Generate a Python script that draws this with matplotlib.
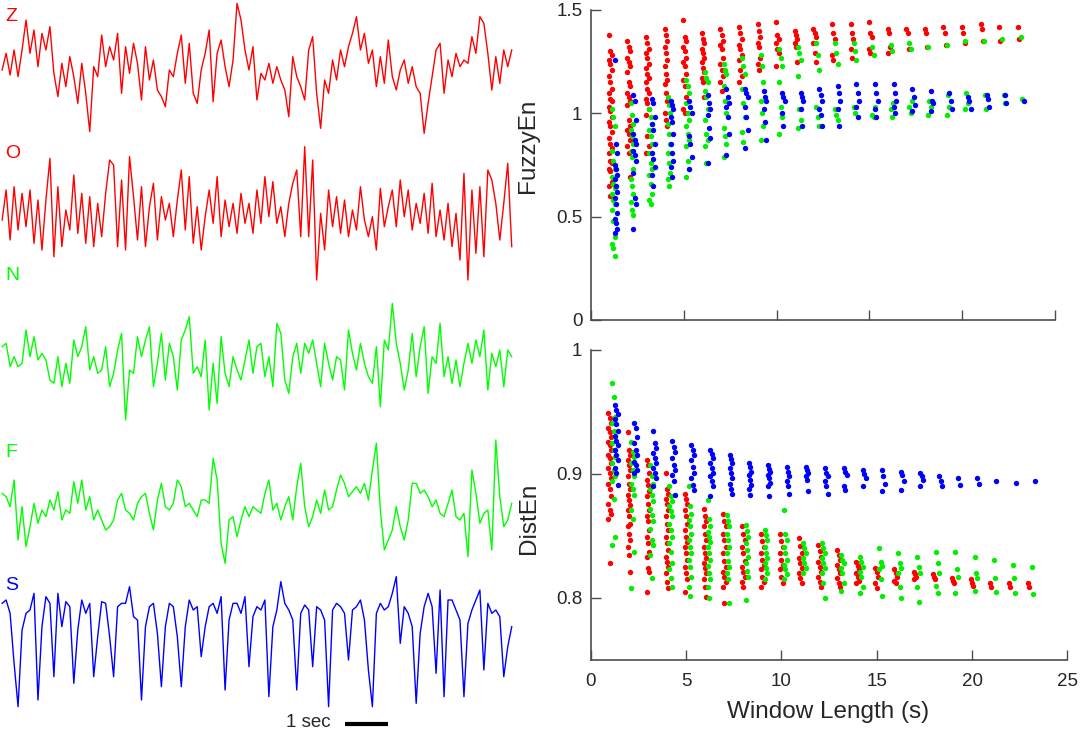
import numpy as np
import matplotlib
matplotlib.use("Agg")
import matplotlib.pyplot as plt

plt.rcParams['font.family'] = ['Liberation Sans', 'DejaVu Sans']

# EEG excerpts (arbitrary amplitude units, sampled evenly over the excerpt)
z_trace = [-10, 40, -25, 50, -30, 50, 140, 40, 110, 0, 100, 50, 120, -20, -90, 10, -60, 30, -30, -110,
           10, -80, -195, 0, -30, 95, 0, 60, 20, 100, -80, 60, -20, 70, 10, -100, 60, -40, 20, -70,
           -90, -120, -10, -30, 40, 95, -50, 70, -80, -110, -10, 40, 110, -105, 40, 80, 0, -60, 20, 190,
           140, 50, -10, 60, -100, -20, -40, 10, -50, 0, -40, -70, -150, 30, -30, -60, -100, 50, 90, -80,
           -185, -40, -80, 20, -40, 50, 0, 60, 100, 150, 50, 100, 10, 50, -60, 30, -50, 80, -30, -70,
           -10, 20, -50, 0, -60, -80, -200, -110, -30, 50, 70, -80, 20, -30, 40, 0, 20, 10, 90, 40,
           150, 130, 40, -70, 30, -50, 50, 0, 50]
o_trace = [-20, 70, -80, 80, -50, 60, -40, 70, -90, 40, -110, 40, 165, -130, 80, -100, 10, -50, 115, -60,
           60, -90, 50, -100, 30, -70, 60, 160, 145, -100, 100, -110, 170, 50, -80, 80, -100, 20, 90, -80,
           50, -20, 30, -70, 40, 130, -50, 110, -90, 20, -110, -10, 70, -30, 110, -70, 40, -40, 30, -60,
           60, -30, 30, -60, 70, -30, 110, -10, 95, -30, 20, -70, 30, 90, 130, -70, 200, -70, 160, -200,
           0, -110, 70, -40, 50, -60, 40, -70, 10, -50, 80, -20, -70, -10, -110, 75, -40, 20, 70, -40,
           100, -10, 70, -50, 30, -30, 60, -60, 90, -70, 10, -80, 30, -100, 0, -140, 120, -200, 70, -120,
           80, -130, 130, 100, 30, -80, 30, 150, -100]
n_trace = [40, 50, -20, 10, -20, -10, 90, 10, 70, 0, 20, 0, -60, -70, 10, -80, -10, -70, 60, 10,
           40, 100, -30, 10, -40, -30, 40, -80, -40, 30, 80, -180, -30, -40, 70, 10, 60, 100, -80, -10,
           80, -60, 50, 10, -90, 60, 90, 130, -40, -20, -50, 60, -150, -10, -130, 70, -40, -80, 10, -30,
           -60, 0, 60, -40, 40, 50, -50, 10, -80, 110, 80, -60, -100, 10, 50, -40, 50, 20, 60, -10,
           -80, 50, -10, -60, 10, 0, -90, 90, 20, -30, 50, -10, -50, -70, 40, -140, 60, 30, 170, 50,
           -10, -90, -30, 80, -50, 40, 100, -100, 10, -10, 110, -50, 10, -70, 0, -80, -10, 50, -10, 60,
           10, 90, -90, 20, -20, 30, -80, 30, 10]
f_trace = [40, 30, 0, 80, -100, 0, -120, -60, 10, -50, -10, -30, 20, -10, 45, -40, -10, -20, 75, 10,
           80, -10, 30, -40, -10, -40, -70, -60, -40, 20, 40, -10, -20, -40, 10, 30, 40, -20, -70, 20,
           70, 0, -10, 10, 80, 60, 0, 10, -10, -30, 20, 20, 10, 145, 80, -110, -170, -40, -30, -90,
           -40, 0, -30, 0, -10, -20, 40, 80, -10, 10, -40, 0, 30, -40, 60, 130, 0, -60, -30, 20,
           -20, 50, -10, 0, 50, 95, 70, 30, 45, 60, 40, 70, 20, 110, 190, -10, -130, -100, -70, 0,
           -60, -100, -40, 70, 70, 40, 50, 30, 0, 20, -20, -30, 10, 50, -30, -40, -20, -150, 110, 40,
           -50, -20, -10, -130, 200, 30, -60, -40, 10]
s_trace = [20, 30, -10, -160, -290, -60, -10, 0, 50, -270, -50, 40, 20, -200, 50, -50, 25, 10, -220, -60,
           30, -10, 20, -200, -80, 25, 20, -80, -200, 10, 20, 20, 70, -20, -30, -270, -50, 10, 20, -70,
           -230, -50, 20, 10, -80, -230, -50, 30, 0, 10, -140, -50, 10, 20, -10, 40, -240, -30, 20, 20,
           -10, 40, -170, -20, 10, 0, 30, -260, -50, 0, 85, 20, 0, -30, -240, -10, 15, 0, -170, 10,
           0, -30, -290, 0, 20, 10, -10, -150, 0, 10, 30, -30, -180, -290, -10, 20, 0, 10, 50, 100,
           -100, 10, -10, -50, -280, -70, 10, 50, 10, -190, 60, -260, 30, 30, 0, -30, -260, -40, 0, 30,
           60, -180, 20, -10, 0, -20, -200, -110, -50]
trace_names = ['Z', 'O', 'N', 'F', 'S']
trace_colors = ['#ff0000', '#ff0000', '#00ff00', '#00ff00', '#0000ff']
excerpt_sec = 11.9

# entropy values per window length (one list per window)
windows = np.arange(1, 24)

fuzzy_red = [
    [1.38, 1.30, 1.28, 1.26, 1.24, 1.21, 1.18, 1.15, 1.12, 1.10, 1.07, 1.06, 1.03, 1.01, 0.98, 0.96, 0.94,
     0.91, 0.88, 0.85, 0.83, 0.81, 0.77, 0.76, 0.73, 0.72, 0.67, 0.65, 0.60],
    [1.35, 1.32, 1.30, 1.27, 1.25, 1.23, 1.20, 1.15, 1.13, 1.10, 1.08, 1.06, 1.04, 0.97, 0.94, 0.92, 0.90,
     0.87, 0.84, 0.81, 0.69],
    [1.37, 1.34, 1.31, 1.29, 1.27, 1.24, 1.22, 1.19, 1.17, 1.15, 1.12, 1.10, 1.07, 1.05, 1.02, 0.99, 0.89,
     0.84, 0.81],
    [1.41, 1.38, 1.35, 1.32, 1.29, 1.26, 1.23, 1.19, 1.16, 1.14, 1.10, 1.06, 1.00, 0.97, 0.94],
    [1.45, 1.37, 1.35, 1.32, 1.30, 1.27, 1.25, 1.23, 1.19, 1.16, 1.13, 1.08, 1.02, 1.00],
    [1.39, 1.36, 1.34, 1.31, 1.29, 1.27, 1.25, 1.22, 1.20, 1.17, 1.15, 1.08],
    [1.41, 1.38, 1.35, 1.33, 1.31, 1.27, 1.24, 1.21, 1.18, 1.15, 1.11],
    [1.42, 1.39, 1.36, 1.33, 1.31, 1.28, 1.26, 1.21, 1.18, 1.15],
    [1.43, 1.40, 1.37, 1.34, 1.32, 1.27, 1.24, 1.21],
    [1.44, 1.38, 1.36, 1.34, 1.31, 1.29, 1.23],
    [1.40, 1.38, 1.36, 1.34, 1.32, 1.25],
    [1.41, 1.39, 1.37, 1.34, 1.29, 1.25],
    [1.43, 1.39, 1.36, 1.28, 1.26],
    [1.43, 1.39, 1.36, 1.31, 1.27],
    [1.44, 1.39, 1.37, 1.31, 1.29],
    [1.41, 1.39, 1.32, 1.29],
    [1.41, 1.39, 1.31],
    [1.41, 1.39, 1.32],
    [1.42, 1.39, 1.33],
    [1.42, 1.39, 1.34],
    [1.43, 1.41, 1.35],
    [1.42, 1.35],
    [1.42, 1.36],
]
fuzzy_green = [
    [1.02, 0.98, 0.94, 0.82, 0.77, 0.73, 0.69, 0.66, 0.64, 0.61, 0.58, 0.56, 0.53, 0.48, 0.40, 0.37, 0.35, 0.31],
    [1.05, 0.99, 0.95, 0.92, 0.89, 0.85, 0.82, 0.79, 0.73, 0.68, 0.65, 0.61, 0.57, 0.53, 0.51],
    [1.02, 0.98, 0.95, 0.92, 0.89, 0.85, 0.81, 0.76, 0.73, 0.70, 0.66, 0.61, 0.58, 0.56],
    [1.08, 1.04, 1.00, 0.95, 0.90, 0.85, 0.81, 0.76, 0.71, 0.68, 0.65],
    [1.16, 1.13, 1.10, 1.05, 1.00, 0.97, 0.94, 0.90, 0.87, 0.84, 0.77, 0.73, 0.69],
    [1.20, 1.17, 1.15, 1.11, 1.08, 1.02, 0.97, 0.90, 0.87, 0.84, 0.76],
    [1.24, 1.21, 1.19, 1.13, 1.06, 1.00, 0.93, 0.89, 0.85, 0.79],
    [1.27, 1.23, 1.19, 1.12, 1.05, 0.98, 0.91, 0.86],
    [1.28, 1.23, 1.15, 1.06, 1.00, 0.94, 0.87],
    [1.31, 1.27, 1.23, 1.15, 1.03, 0.98, 0.90],
    [1.32, 1.29, 1.26, 1.18, 1.02, 0.97, 0.93],
    [1.34, 1.28, 1.21, 1.03, 0.98, 0.94],
    [1.34, 1.29, 1.24, 1.02, 0.99, 0.97],
    [1.34, 1.30, 1.26, 1.03, 1.00],
    [1.32, 1.28, 1.03, 0.99, 0.98],
    [1.33, 1.30, 1.05, 1.02, 0.98],
    [1.34, 1.31, 1.06, 1.03, 1.00],
    [1.32, 1.06, 1.03, 0.99],
    [1.33, 1.09, 1.03, 0.99],
    [1.35, 1.10, 1.05, 1.02],
    [1.35, 1.09, 1.02],
    [1.36, 1.09, 1.05],
    [1.37, 1.07],
]
fuzzy_blue = [
    [1.26, 0.85, 0.81, 0.75, 0.73, 0.70, 0.68, 0.65, 0.62, 0.59, 0.56, 0.52, 0.49, 0.47, 0.44, 0.42],
    [1.09, 1.06, 0.97, 0.90, 0.87, 0.85, 0.82, 0.80, 0.77, 0.71, 0.59, 0.56, 0.44],
    [1.07, 1.05, 0.98, 0.95, 0.92, 0.85, 0.81, 0.78, 0.74, 0.70, 0.65],
    [1.06, 1.04, 1.02, 0.98, 0.96, 0.90, 0.85, 0.81, 0.77, 0.74, 0.69],
    [1.06, 1.03, 1.00, 0.89, 0.85, 0.79, 0.73],
    [1.09, 1.05, 1.02, 0.99, 0.93, 0.88, 0.76],
    [1.12, 1.08, 1.05, 1.03, 0.98, 0.90, 0.80],
    [1.12, 1.10, 1.08, 1.03, 0.98, 0.92, 0.83],
    [1.11, 1.08, 1.06, 1.02, 0.96, 0.87],
    [1.10, 1.08, 1.06, 1.00, 0.94],
    [1.10, 1.08, 1.06, 1.02, 0.94],
    [1.12, 1.09, 1.06, 1.02, 0.99, 0.94],
    [1.13, 1.10, 1.06, 1.02, 0.94],
    [1.14, 1.10, 1.06, 1.03, 0.98],
    [1.14, 1.10, 1.06, 1.02, 0.98],
    [1.14, 1.10, 1.06, 1.03, 1.00],
    [1.12, 1.08, 1.04, 1.01],
    [1.11, 1.06, 1.05, 1.01],
    [1.10, 1.06, 1.02],
    [1.08, 1.06, 1.02],
    [1.09, 1.07, 1.03],
    [1.09, 1.05],
    [1.06],
]

dist_red = [
    [0.949, 0.945, 0.941, 0.937, 0.934, 0.930, 0.926, 0.923, 0.919, 0.915, 0.913, 0.909, 0.905, 0.901,
     0.897, 0.892, 0.888, 0.882, 0.876, 0.871, 0.868, 0.864, 0.828],
    [0.934, 0.919, 0.915, 0.911, 0.907, 0.903, 0.898, 0.892, 0.888, 0.883, 0.879, 0.875, 0.871, 0.866,
     0.860, 0.858, 0.852, 0.847, 0.841, 0.835, 0.821],
    [0.911, 0.907, 0.901, 0.895, 0.891, 0.886, 0.882, 0.876, 0.871, 0.866, 0.862, 0.855, 0.849, 0.844,
     0.837, 0.833, 0.824, 0.821, 0.805],
    [0.901, 0.888, 0.884, 0.880, 0.876, 0.871, 0.866, 0.860, 0.855, 0.849, 0.844, 0.839, 0.833, 0.829,
     0.825, 0.820, 0.813, 0.808],
    [0.884, 0.880, 0.876, 0.871, 0.866, 0.860, 0.855, 0.849, 0.845, 0.841, 0.836, 0.831, 0.825, 0.820,
     0.815, 0.805],
    [0.872, 0.866, 0.862, 0.858, 0.852, 0.847, 0.841, 0.836, 0.832, 0.828, 0.824, 0.820, 0.815, 0.809, 0.801],
    [0.868, 0.862, 0.858, 0.852, 0.847, 0.841, 0.836, 0.830, 0.825, 0.821, 0.817, 0.813, 0.809, 0.796],
    [0.858, 0.852, 0.847, 0.841, 0.836, 0.830, 0.825, 0.821, 0.817, 0.813, 0.809],
    [0.852, 0.846, 0.841, 0.836, 0.831, 0.827, 0.823, 0.817, 0.813, 0.809],
    [0.852, 0.846, 0.841, 0.836, 0.831, 0.827, 0.823, 0.817, 0.812],
    [0.848, 0.842, 0.836, 0.832, 0.828, 0.824, 0.820, 0.816, 0.812],
    [0.843, 0.838, 0.833, 0.829, 0.825, 0.821, 0.817, 0.813, 0.809],
    [0.839, 0.835, 0.831, 0.827, 0.823, 0.820, 0.816, 0.812, 0.809],
    [0.829, 0.826, 0.823, 0.820, 0.817, 0.814, 0.812],
    [0.824, 0.821, 0.817, 0.812, 0.808],
    [0.823, 0.820, 0.817, 0.814, 0.812],
    [0.821, 0.819, 0.817, 0.815],
    [0.819, 0.817, 0.815],
    [0.816, 0.814, 0.812],
    [0.815, 0.812, 0.810],
    [0.812, 0.809],
    [0.812, 0.809],
    [0.812, 0.809],
]
dist_green = [
    [0.973, 0.962, 0.946, 0.941, 0.935, 0.930, 0.925, 0.919, 0.914, 0.909, 0.903, 0.898, 0.894, 0.880,
     0.849, 0.843],
    [0.926, 0.918, 0.914, 0.909, 0.903, 0.898, 0.892, 0.888, 0.883, 0.871, 0.864, 0.837, 0.808],
    [0.907, 0.898, 0.892, 0.888, 0.883, 0.878, 0.872, 0.867, 0.862, 0.856, 0.847, 0.843, 0.835, 0.816],
    [0.890, 0.882, 0.878, 0.874, 0.870, 0.866, 0.860, 0.855, 0.849, 0.844, 0.837, 0.828, 0.823, 0.816, 0.809],
    [0.890, 0.874, 0.868, 0.863, 0.858, 0.852, 0.847, 0.841, 0.836, 0.831, 0.825, 0.817, 0.809, 0.802],
    [0.879, 0.864, 0.858, 0.853, 0.849, 0.845, 0.841, 0.836, 0.831, 0.826, 0.820, 0.815, 0.809, 0.800],
    [0.867, 0.862, 0.858, 0.852, 0.847, 0.841, 0.836, 0.830, 0.825, 0.820, 0.815, 0.796],
    [0.859, 0.854, 0.849, 0.844, 0.839, 0.833, 0.828, 0.822, 0.817, 0.798],
    [0.855, 0.851, 0.847, 0.841, 0.836, 0.832, 0.828, 0.824, 0.820, 0.815],
    [0.871, 0.852, 0.847, 0.841, 0.836, 0.831, 0.827, 0.823, 0.819, 0.815],
    [0.844, 0.840, 0.836, 0.832, 0.828, 0.824, 0.820],
    [0.844, 0.840, 0.836, 0.832, 0.828, 0.824, 0.820, 0.812, 0.800],
    [0.835, 0.831, 0.828, 0.824, 0.820, 0.812, 0.806],
    [0.833, 0.829, 0.825, 0.821, 0.817, 0.809, 0.804],
    [0.840, 0.829, 0.826, 0.823, 0.815, 0.802],
    [0.836, 0.828, 0.824, 0.820, 0.809, 0.800],
    [0.833, 0.825, 0.820, 0.809, 0.797],
    [0.837, 0.828, 0.820, 0.810, 0.804],
    [0.837, 0.823, 0.817, 0.804],
    [0.833, 0.820, 0.816, 0.806],
    [0.831, 0.816, 0.805],
    [0.827, 0.816, 0.804],
    [0.825, 0.803],
]
dist_blue = [
    [0.956, 0.952, 0.948, 0.944, 0.940, 0.935, 0.931, 0.927, 0.923, 0.919, 0.915, 0.911, 0.905, 0.901, 0.891],
    [0.941, 0.937, 0.930, 0.925, 0.919, 0.915, 0.910, 0.907, 0.903, 0.901],
    [0.935, 0.925, 0.921, 0.917, 0.913, 0.909, 0.905, 0.901, 0.897, 0.890],
    [0.927, 0.922, 0.918, 0.913, 0.907, 0.903, 0.899, 0.894, 0.883],
    [0.923, 0.919, 0.915, 0.911, 0.906, 0.901, 0.897, 0.891, 0.887],
    [0.919, 0.916, 0.913, 0.909, 0.905, 0.901, 0.898, 0.894, 0.890, 0.882],
    [0.915, 0.912, 0.909, 0.905, 0.901, 0.897, 0.892, 0.888, 0.884],
    [0.909, 0.906, 0.902, 0.899, 0.895, 0.891, 0.888, 0.883],
    [0.907, 0.904, 0.902, 0.899, 0.897, 0.893, 0.890, 0.882],
    [0.906, 0.902, 0.898, 0.894, 0.890, 0.884],
    [0.906, 0.903, 0.901, 0.898, 0.895, 0.886],
    [0.905, 0.901, 0.898, 0.894, 0.890, 0.884],
    [0.905, 0.902, 0.899, 0.890, 0.887],
    [0.903, 0.900, 0.897, 0.890],
    [0.903, 0.898, 0.892, 0.886],
    [0.902, 0.899, 0.894, 0.887],
    [0.901, 0.898, 0.895, 0.890],
    [0.898, 0.894, 0.890],
    [0.897, 0.891],
    [0.897, 0.892],
    [0.894],
    [0.893],
    [0.894],
]

fuzzy_ticks = [0, 0.5, 1, 1.5]
fuzzy_ticklabels = ['0', '0.5', '1', '1.5']
dist_ticks = [0.8, 0.9, 1.0]
dist_ticklabels = ['0.8', '0.9', '1']
x_ticks = [0, 5, 10, 15, 20, 25]

TEXT = '#262626'
AXC = '#4d4d4d'

fig = plt.figure(figsize=(10.8, 7.31), dpi=100)

# ---- left: EEG excerpts ----
ax_eeg = fig.add_axes([0, 0, 520 / 1080, 1])
ax_eeg.set_xlim(-0.05, 520 / 43)
ax_eeg.set_ylim(-2193, 0)
ax_eeg.axis('off')

baselines = [-200, -640, -1080, -1520, -1830]
label_y = [16.5, 153.5, 275.5, 452, 585.5]
for vals, name, col, base, ly in zip([z_trace, o_trace, n_trace, f_trace, s_trace],
                                      trace_names, trace_colors, baselines, label_y):
    t = np.linspace(0, excerpt_sec, len(vals))
    ax_eeg.plot(t, np.array(vals) + base, color=col, lw=1.0)
    fig.text(5 / 1080, 1 - ly / 731, name, color=col, fontsize=14, ha='left', va='center')

# 1 second scale bar
ax_eeg.plot([8.0, 9.0], [-2172, -2172], color='black', lw=3, solid_capstyle='butt')
ax_eeg.text(7.67, -2168, '1 sec', color=TEXT, fontsize=13.5, ha='right', va='center')


def style_axes(ax):
    for side in ['top', 'right']:
        ax.spines[side].set_visible(False)
    for side in ['left', 'bottom']:
        ax.spines[side].set_color(AXC)
        ax.spines[side].set_linewidth(1.2)
    ax.tick_params(direction='in', length=7, width=1.0, color=AXC,
                   labelsize=13.5, labelcolor=TEXT)
    ax.tick_params(axis='x', pad=9)
    ax.tick_params(axis='y', pad=6)
    ax.set_xlim(0, 25)
    ax.set_xticks(x_ticks)


def scatter_columns(ax, columns, offset, color):
    xs, ys = [], []
    for w, col in zip(windows, columns):
        for i, v in enumerate(col):
            xs.append(w + offset + ((i % 3) - 1) * 0.07)
            ys.append(v)
    ax.scatter(xs, ys, s=15, color=color, linewidths=0, zorder=3)


# ---- right top: FuzzyEn ----
ax1 = fig.add_axes([590.7 / 1080, 411 / 731, 464.6 / 1080, 310 / 731])
style_axes(ax1)
scatter_columns(ax1, fuzzy_red, 0.05, '#ff0000')
scatter_columns(ax1, fuzzy_green, 0.22, '#00ee00')
scatter_columns(ax1, fuzzy_blue, 0.37, '#0000ff')
ax1.set_ylim(0, 1.5)
ax1.set_yticks(fuzzy_ticks)
ax1.set_yticklabels(fuzzy_ticklabels)
ax1.set_xticklabels([])
ax1.text(-0.134, 0.561, 'FuzzyEn', transform=ax1.transAxes, rotation=90,
         ha='center', va='center', fontsize=17.5, color=TEXT)

# ---- right bottom: DistEn ----
ax2 = fig.add_axes([590.7 / 1080, 71 / 731, 476.7 / 1080, 310 / 731])
style_axes(ax2)
scatter_columns(ax2, dist_red, 0.0, '#ff0000')
scatter_columns(ax2, dist_green, 0.2, '#00ee00')
scatter_columns(ax2, dist_blue, 0.35, '#0000ff')
ax2.set_ylim(0.75, 1.0)
ax2.set_yticks(dist_ticks)
ax2.set_yticklabels(dist_ticklabels)
ax2.text(-0.130, 0.458, 'DistEn', transform=ax2.transAxes, rotation=90,
         ha='center', va='center', fontsize=17.5, color=TEXT)
ax2.text(0.498, -0.168, 'Window Length (s)', transform=ax2.transAxes,
         ha='center', va='center', fontsize=17.5, color=TEXT)

fig.savefig('out.png', dpi=100)
